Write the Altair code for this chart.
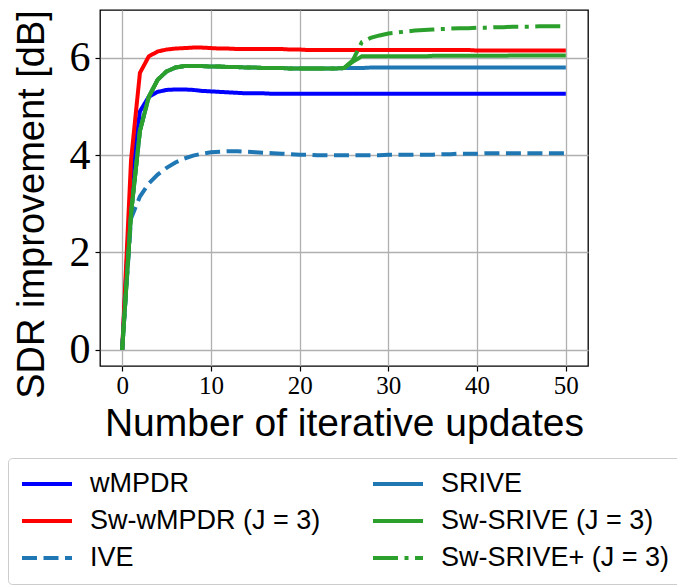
import altair as alt
import pandas as pd

# ---- data ----
iterations = list(range(51))

wmpdr = [0.0, 3.45, 4.90, 5.20, 5.30, 5.34, 5.35, 5.35, 5.34, 5.32,
         5.31, 5.30, 5.29, 5.28, 5.27, 5.27, 5.27, 5.26, 5.26, 5.26,
         5.26, 5.26, 5.26, 5.26, 5.26, 5.26, 5.26, 5.26, 5.26, 5.26,
         5.26, 5.26, 5.26, 5.26, 5.26, 5.26, 5.26, 5.26, 5.26, 5.26,
         5.26, 5.26, 5.26, 5.26, 5.26, 5.26, 5.26, 5.26, 5.26, 5.26, 5.26]

sw_wmpdr = [0.0, 3.90, 5.69, 6.03, 6.13, 6.17, 6.19, 6.20, 6.21, 6.21,
            6.20, 6.19, 6.19, 6.18, 6.18, 6.18, 6.18, 6.18, 6.18, 6.17,
            6.17, 6.16, 6.16, 6.16, 6.16, 6.16, 6.16, 6.16, 6.16, 6.16,
            6.16, 6.16, 6.16, 6.16, 6.16, 6.16, 6.16, 6.16, 6.16, 6.16,
            6.15, 6.15, 6.15, 6.15, 6.15, 6.15, 6.15, 6.15, 6.15, 6.15, 6.15]

ive = [0.0, 2.70, 3.15, 3.42, 3.60, 3.74, 3.85, 3.93, 3.99, 4.03,
       4.06, 4.07, 4.08, 4.08, 4.07, 4.06, 4.05, 4.04, 4.03, 4.02,
       4.01, 4.01, 4.00, 4.00, 4.00, 4.00, 4.00, 4.00, 4.00, 4.00,
       4.01, 4.01, 4.01, 4.01, 4.01, 4.01, 4.02, 4.02, 4.03, 4.03,
       4.03, 4.04, 4.04, 4.04, 4.04, 4.04, 4.04, 4.04, 4.04, 4.04, 4.04]

srive = [0.0, 2.80, 4.50, 5.20, 5.55, 5.72, 5.80, 5.83, 5.83, 5.83,
         5.82, 5.82, 5.81, 5.81, 5.80, 5.80, 5.79, 5.79, 5.79, 5.78,
         5.78, 5.78, 5.78, 5.78, 5.78, 5.79, 5.79, 5.79, 5.80, 5.80,
         5.80, 5.80, 5.80, 5.80, 5.80, 5.80, 5.80, 5.80, 5.80, 5.80,
         5.80, 5.80, 5.80, 5.80, 5.80, 5.80, 5.80, 5.80, 5.80, 5.80, 5.80]

sw_srive = [0.0, 2.80, 4.50, 5.20, 5.55, 5.72, 5.80, 5.83, 5.83, 5.83,
            5.82, 5.82, 5.81, 5.81, 5.80, 5.80, 5.79, 5.79, 5.79, 5.78,
            5.78, 5.78, 5.78, 5.78, 5.78, 5.79, 5.92, 6.03, 6.03, 6.03,
            6.03, 6.03, 6.03, 6.03, 6.03, 6.04, 6.04, 6.04, 6.04, 6.04,
            6.04, 6.04, 6.04, 6.04, 6.05, 6.05, 6.05, 6.05, 6.05, 6.05, 6.05]

sw_srive_plus = [0.0, 2.80, 4.50, 5.20, 5.55, 5.72, 5.80, 5.83, 5.83, 5.83,
                 5.82, 5.82, 5.81, 5.81, 5.80, 5.80, 5.79, 5.79, 5.79, 5.78,
                 5.78, 5.78, 5.78, 5.78, 5.78, 5.79, 5.95, 6.32, 6.41, 6.46,
                 6.50, 6.52, 6.54, 6.56, 6.57, 6.58, 6.59, 6.60, 6.61, 6.61,
                 6.62, 6.62, 6.63, 6.63, 6.64, 6.64, 6.64, 6.65, 6.65, 6.65, 6.65]

names = ["wMPDR", "Sw-wMPDR (J = 3)", "IVE", "SRIVE", "Sw-SRIVE (J = 3)", "Sw-SRIVE+ (J = 3)"]
series_values = [wmpdr, sw_wmpdr, ive, srive, sw_srive, sw_srive_plus]
series_colors = ["#0000ff", "#ff0000", "#1f77b4", "#1f77b4", "#2ca02c", "#2ca02c"]
series_dashes = [[1, 0], [1, 0], [15, 6.5], [1, 0], [1, 0], [25, 6.5, 4, 6.5]]

x_ticks = [0, 10, 20, 30, 40, 50]
y_ticks = [0, 2, 4, 6]

rows = []
for name, vals in zip(names, series_values):
    for xi, v in zip(iterations, vals):
        rows.append({"x": xi, "value": v, "series": name})
df = pd.DataFrame(rows)

legend = alt.Legend(
    orient="none", legendX=-92, legendY=448, columns=2, title=None,
    symbolType="stroke", symbolSize=2500, symbolStrokeWidth=4,
    labelFont="Liberation Sans", labelFontSize=27, labelColor="black",
    labelLimit=600, clipHeight=28, rowPadding=9, columnPadding=50,
    labelOffset=16, padding=12, strokeColor="#cccccc", cornerRadius=4,
    fillColor="white",
)

color_scale = alt.Scale(domain=names, range=series_colors)
dash_scale = alt.Scale(domain=names, range=series_dashes)

x_enc = alt.X(
    "x:Q",
    scale=alt.Scale(domain=[-2.5, 52.5], nice=False, zero=False),
    axis=alt.Axis(
        values=x_ticks, format="d", title="Number of iterative updates",
        labelFont="Liberation Serif", labelFontSize=25, labelColor="black",
        labelPadding=2, labelOverlap=False, labelFlush=False,
        titleFont="Liberation Sans", titleFontSize=39, titleFontWeight="normal",
        titleColor="black", titleBaseline="alphabetic", titleY=69,
        domain=False, tickColor="black", tickSize=5, tickWidth=1.2,
        grid=True, gridColor="#b0b0b0", gridWidth=1.3,
    ),
)
y_enc = alt.Y(
    "value:Q",
    scale=alt.Scale(domain=[-0.3325, 6.9825], nice=False, zero=False),
    axis=alt.Axis(
        values=y_ticks, format="d", title="SDR improvement [dB]",
        labelFont="Liberation Serif", labelFontSize=42, labelColor="black",
        labelPadding=5, labelOverlap=False, labelFlush=False,
        titleFont="Liberation Sans", titleFontSize=38, titleFontWeight="normal",
        titleColor="black", titleBaseline="alphabetic", titleAlign="center",
        titleAngle=270, titleX=-57, titleY=194,
        domain=False, tickColor="black", tickSize=5, tickWidth=1.2,
        grid=True, gridColor="#b0b0b0", gridWidth=1.3,
    ),
)

base = alt.Chart(df).mark_line(strokeWidth=4, clip=True).encode(
    x=x_enc,
    y=y_enc,
    color=alt.Color("series:N", scale=color_scale, legend=legend),
    strokeDash=alt.StrokeDash("series:N", scale=dash_scale, legend=legend),
)

layers = [base.transform_filter(alt.datum.series == n) for n in names]

chart = alt.layer(*layers).properties(
    width=488,
    height=356,
    padding={"left": 92, "top": 2, "right": 89, "bottom": 221},
    autosize=alt.AutoSizeParams(type="none"),
).configure_view(
    stroke="black", strokeWidth=1.3
)

chart.save("out.html", embed_options={"renderer": "svg", "actions": False})
